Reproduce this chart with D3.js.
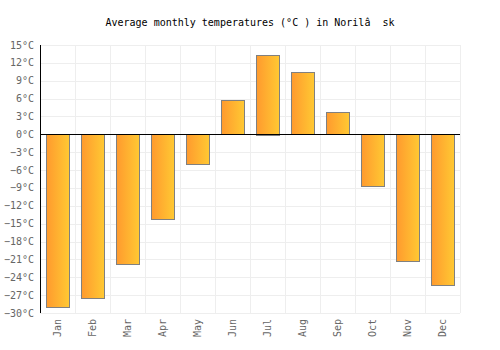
<!DOCTYPE html>
<html>
<head>
<meta charset="utf-8">
<script src="https://cdn.jsdelivr.net/npm/d3@7"></script>
<style>
  body { margin: 0; background: #fff; }
  svg { display: block; }
</style>
</head>
<body>
<div id="chart-area"></div>
<script>
var months = ["Jan", "Feb", "Mar", "Apr", "May", "Jun", "Jul", "Aug", "Sep", "Oct", "Nov", "Dec"];
var temps = [-29.1, -27.6, -21.8, -14.2, -5.0, 5.7, 13.4, 10.4, 3.7, -8.7, -21.4, -25.4];
var yTicks = [15, 12, 9, 6, 3, 0, -3, -6, -9, -12, -15, -18, -21, -24, -27, -30];

var width = 500;
var height = 350;
var margin = { top: 45, right: 40, bottom: 37, left: 40 };
var innerWidth = width - margin.left - margin.right;
var innerHeight = height - margin.top - margin.bottom;

var svg = d3.select("#chart-area")
    .append("svg")
    .attr("width", width)
    .attr("height", height);

var grad = svg.append("defs").append("linearGradient")
    .attr("id", "barGrad")
    .attr("x1", "0%").attr("x2", "100%")
    .attr("y1", "0%").attr("y2", "0%");
grad.append("stop").attr("offset", "0%").attr("stop-color", "#ff9a2e");
grad.append("stop").attr("offset", "100%").attr("stop-color", "#ffc933");

svg.append("text")
    .attr("x", width / 2)
    .attr("y", 26)
    .attr("text-anchor", "middle")
    .attr("font-family", "DejaVu Sans Mono, monospace")
    .attr("font-size", "10px")
    .attr("fill", "#000")
    .style("white-space", "pre")
    .text("Average monthly temperatures (°C ) in Norilâ  sk");

var g = svg.append("g")
    .attr("transform", `translate(${margin.left}, ${margin.top})`);

var x = d3.scaleBand()
    .domain(months)
    .range([0, innerWidth])
    .paddingInner(0.34)
    .paddingOuter(0.17);

var xCol = d3.scaleBand()
    .domain(months)
    .range([0, innerWidth]);

var y = d3.scaleLinear()
    .domain([-30, 15])
    .range([innerHeight, 0]);

// grid
g.append("g")
    .selectAll("line")
    .data(yTicks)
    .enter()
    .append("line")
    .attr("x1", 0)
    .attr("x2", innerWidth)
    .attr("y1", d => Math.round(y(d)) + 0.5)
    .attr("y2", d => Math.round(y(d)) + 0.5)
    .attr("stroke", "#eeeeee")
    .attr("stroke-width", 1);

g.append("g")
    .selectAll("line")
    .data(months)
    .enter()
    .append("line")
    .attr("x1", d => Math.round(xCol(d) + xCol.bandwidth()) + 0.5)
    .attr("x2", d => Math.round(xCol(d) + xCol.bandwidth()) + 0.5)
    .attr("y1", 0)
    .attr("y2", innerHeight)
    .attr("stroke", "#eeeeee")
    .attr("stroke-width", 1);

// bars
g.selectAll("rect.bar")
    .data(temps)
    .enter()
    .append("rect")
    .attr("class", "bar")
    .attr("x", (d, i) => Math.round(x(months[i])) + 0.5)
    .attr("y", d => Math.round(y(Math.max(0, d))) + 0.5)
    .attr("width", Math.round(x.bandwidth()))
    .attr("height", d => Math.round(Math.abs(y(d) - y(0))))
    .attr("fill", "url(#barGrad)")
    .attr("stroke", "#808080")
    .attr("stroke-width", 1);

// zero line
g.append("line")
    .attr("x1", 0)
    .attr("x2", innerWidth)
    .attr("y1", Math.round(y(0)) + 0.5)
    .attr("y2", Math.round(y(0)) + 0.5)
    .attr("stroke", "#000")
    .attr("stroke-width", 1);

// left axis line
g.append("line")
    .attr("x1", 0.5)
    .attr("x2", 0.5)
    .attr("y1", 0)
    .attr("y2", innerHeight)
    .attr("stroke", "#000")
    .attr("stroke-width", 1);

// y labels
g.append("g")
    .selectAll("text")
    .data(yTicks)
    .enter()
    .append("text")
    .attr("x", -6)
    .attr("y", d => y(d))
    .attr("dy", "0.35em")
    .attr("text-anchor", "end")
    .attr("font-family", "DejaVu Sans Mono, monospace")
    .attr("font-size", "10px")
    .attr("fill", "#666")
    .text(d => `${d < 0 ? "\u2212" + (-d) : d}°C`);

// x labels
g.append("g")
    .selectAll("text")
    .data(months)
    .enter()
    .append("text")
    .attr("transform", d => `translate(${xCol(d) + xCol.bandwidth() / 2}, ${innerHeight + 6}) rotate(-90)`)
    .attr("dy", "0.35em")
    .attr("text-anchor", "end")
    .attr("font-family", "DejaVu Sans Mono, monospace")
    .attr("font-size", "10px")
    .attr("fill", "#666")
    .text(d => d);
</script>
</body>
</html>
